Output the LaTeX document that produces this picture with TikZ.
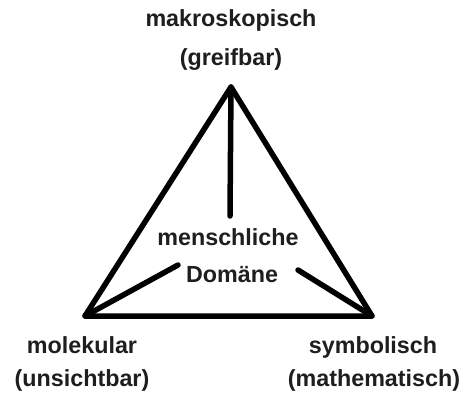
\documentclass[tikz,border=0pt]{standalone}
\usepackage{fontspec}
\setmainfont{Liberation Sans}
\definecolor{txt}{HTML}{1E1E1E}
\begin{document}
\begin{tikzpicture}[x=1pt,y=-1pt,
  lbl/.style={anchor=base,inner sep=0pt,text=txt,font=\fontsize{23.3}{27}\selectfont\bfseries},
  edge/.style={line width=5.5pt,line cap=round,line join=round,draw=black}]
\useasboundingbox (0,0) rectangle (469,396);
\fill[white] (0,0) rectangle (469,396);
\coordinate (T) at (231,87);
\coordinate (L) at (85,316);
\coordinate (R) at (372,316);
\coordinate (Ti) at (230,216);
\coordinate (Li) at (178,265);
\coordinate (Ri) at (298,270);
\draw[edge] (T) -- (L) -- (R) -- cycle;
\draw[edge] (T) -- (Ti);
\draw[edge] (L) -- (Li);
\draw[edge] (R) -- (Ri);
\node[lbl] (t1) at (231,27) {makroskopisch};
\node[lbl] (t2) at (231,66) {(greifbar)};
\node[lbl] (m1) at (228,245) {menschliche};
\node[lbl] (m2) at (232,282) {Domäne};
\node[lbl] (l1) at (82,353) {molekular};
\node[lbl] (l2) at (82,386) {(unsichtbar)};
\node[lbl] (r1) at (373,353) {symbolisch};
\node[lbl] (r2) at (374,386) {(mathematisch)};
\end{tikzpicture}
\end{document}
